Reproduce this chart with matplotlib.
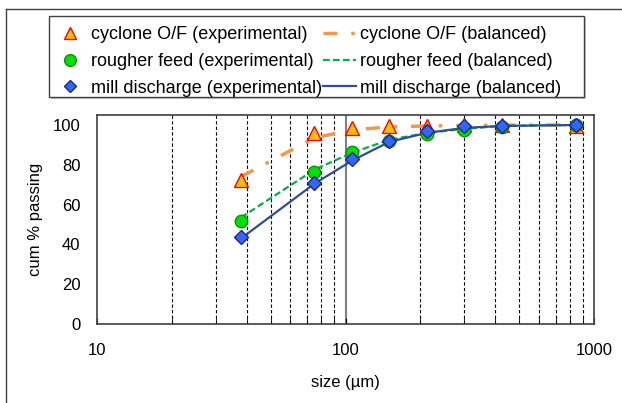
import matplotlib
matplotlib.use("Agg")
import matplotlib.pyplot as plt
from matplotlib.lines import Line2D
from matplotlib.patches import Rectangle
from matplotlib.ticker import FixedLocator, NullFormatter

plt.rcParams['font.family'] = ['Liberation Sans', 'DejaVu Sans']

# sieve sizes (um)
size = [38, 75, 106, 150, 212, 300, 425, 850]

# cum % passing
cyclone_exp = [72.5, 96, 98.5, 99.5, 99.5, 99.8, 100, 99.5]
cyclone_bal = [74, 93.5, 97.5, 99, 99.5, 99.7, 99.9, 100]
rougher_exp = [51.5, 76.5, 86.5, 92, 95.5, 97.5, 99, 100]
rougher_bal = [53.5, 77.5, 86, 92.5, 96, 98, 99.5, 100]
mill_exp = [43.5, 71, 83, 92, 97, 99.3, 99.7, 100]
mill_bal = [43, 70.5, 82, 91.5, 96, 98.5, 99.5, 100]

yticks = [0, 20, 40, 60, 80, 100]
xticks = [10, 100, 1000]

W, H = 622, 403
fig = plt.figure(figsize=(W / 100, H / 100), dpi=100)
ax = fig.add_axes([97 / W, 1 - 324 / H, (594 - 97) / W, (324 - 115) / H])

ax.set_xscale('log')
ax.set_xlim(10, 1000)
ax.set_ylim(0, 105)

# vertical grid lines
minor = [m * d for d in (10, 100) for m in range(2, 10)]
for v in minor:
    ax.axvline(v, color='black', lw=0.8, ls=(0, (3, 2)), zorder=1)
ax.axvline(100, color='#808080', lw=1.5, zorder=1)

cyc_style = dict(color='#F79646', lw=2.5, ls=(0, (4, 4, 1, 4)))
rough_style = dict(color='#00B050', lw=1.6, ls=(0, (3, 1.5)))
mill_style = dict(color='#2F4F8F', lw=1.6)
tri = dict(ls='none', marker='^', ms=10, mfc='#FFC000', mec='#FF0000', mew=1)
circ = dict(ls='none', marker='o', ms=9, mfc='#00E000', mec='#109010', mew=1)
dia = dict(ls='none', marker='D', ms=7.5, mfc='#3366FF', mec='#1A2A8A', mew=1)

# balanced lines
ax.plot(size, cyclone_bal, zorder=2, **cyc_style)
ax.plot(size, rougher_bal, zorder=2, **rough_style)
ax.plot(size, mill_bal, zorder=2, **mill_style)

# experimental points
ax.plot(size, cyclone_exp, zorder=3, **tri)
ax.plot(size, rougher_exp, zorder=4, **circ)
ax.plot(size, mill_exp, zorder=5, **dia)

ax.set_yticks(yticks)
ax.xaxis.set_major_locator(FixedLocator(xticks))
ax.xaxis.set_minor_locator(FixedLocator(minor))
ax.xaxis.set_minor_formatter(NullFormatter())
ax.set_xticklabels([str(t) for t in xticks])
ax.tick_params(axis='y', length=0, labelsize=12, pad=12)
ax.tick_params(axis='x', which='both', direction='in', length=4,
               labelsize=12, pad=14)

for s in ax.spines.values():
    s.set_color('#404040')
    s.set_linewidth(1.2)

ax.set_ylabel('cum % passing', fontsize=12, labelpad=7)
ax.set_xlabel('size (\u00b5m)', fontsize=12, labelpad=12)

handles = [
    Line2D([], [], **dict(tri, ms=9)),
    Line2D([], [], **dict(circ, ms=8.5)),
    Line2D([], [], **dict(dia, ms=6.5)),
    Line2D([], [], **cyc_style),
    Line2D([], [], **rough_style),
    Line2D([], [], **mill_style),
]
labels = [
    'cyclone O/F (experimental)',
    'rougher feed (experimental)',
    'mill discharge (experimental)',
    'cyclone O/F (balanced)',
    'rougher feed (balanced)',
    'mill discharge (balanced)',
]
fig.legend(handles, labels, ncol=2, loc='upper left',
           bbox_to_anchor=(45.5 / W, 1 - 18 / H), fontsize=13,
           frameon=False, handlelength=1.85, handletextpad=0.2,
           columnspacing=0.05, labelspacing=0.54, borderpad=0.45,
           borderaxespad=0)

# legend frame with a faint shadow
fig.add_artist(Rectangle((51 / W, 1 - 99 / H), (584 - 49) / W, (97 - 16) / H,
                         transform=fig.transFigure, facecolor='#C8C8C8',
                         edgecolor='none', zorder=0))
fig.add_artist(Rectangle((49 / W, 1 - 97 / H), (584 - 49) / W, (97 - 16) / H,
                         transform=fig.transFigure, facecolor='white',
                         edgecolor='#404040', lw=1, zorder=0.5))

# outer chart border
fig.add_artist(Line2D([6 / W, 6 / W], [0, 1 - 9 / H], transform=fig.transFigure,
                      color='#404040', lw=1))
fig.add_artist(Line2D([6 / W, 1], [1 - 9 / H, 1 - 9 / H], transform=fig.transFigure,
                      color='#404040', lw=1))

fig.savefig('out.png', dpi=100)
